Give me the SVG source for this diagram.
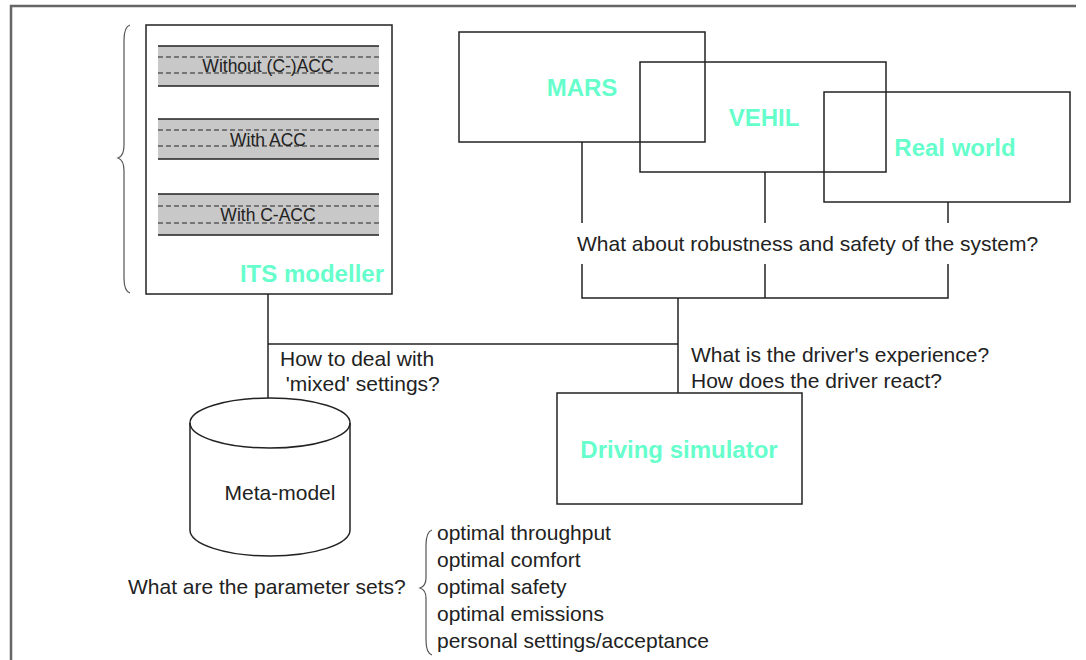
<svg xmlns="http://www.w3.org/2000/svg" width="1086" height="660" viewBox="0 0 1086 660">
<defs>
<style>
.frame{fill:none;stroke:#666;stroke-width:2.5}
.box{fill:none;stroke:#222;stroke-width:1.5}
.wire{fill:none;stroke:#222;stroke-width:1.5}
.brace{fill:none;stroke:#555;stroke-width:1.2}
.lane{fill:#c8c8c8;stroke:none}
.edge{stroke:#222;stroke-width:1.5}
.dash{stroke:#222;stroke-width:1;stroke-dasharray:5 3}
.t{font-family:"Liberation Sans",Arial,sans-serif;font-size:21px;fill:#222}
.lt{font-family:"Liberation Sans",Arial,sans-serif;font-size:17.5px;fill:#222;text-anchor:middle}
.lbl{font-family:"Liberation Sans",Arial,sans-serif;font-size:24px;font-weight:bold;fill:#66FFCC}
</style>
</defs>
<rect width="1086" height="660" fill="#fff"/>
<polyline class="frame" points="11,660 11,6 1076,6"/>

<g id="connectors">
<line class="wire" x1="268" y1="294" x2="268" y2="398"/>
<line class="wire" x1="268" y1="344" x2="678" y2="344"/>
<line class="wire" x1="678" y1="298" x2="678" y2="393"/>
<line class="wire" x1="582" y1="142" x2="582" y2="223"/>
<line class="wire" x1="765" y1="172" x2="765" y2="223"/>
<line class="wire" x1="948" y1="202" x2="948" y2="223"/>
<polyline class="wire" points="582,264 582,298 948,298 948,264"/>
<line class="wire" x1="765" y1="264" x2="765" y2="298"/>
<text class="t" x="577" y="251">What about robustness and safety of the system?</text>
<text class="t" x="280" y="366">How to deal with</text>
<text class="t" x="280" y="391" xml:space="preserve"> 'mixed' settings?</text>
<text class="t" x="691" y="362">What is the driver's experience?</text>
<text class="t" x="691" y="388">How does the driver react?</text>
</g>

<g id="its-modeller">
<path class="brace" d="M130,25 Q124,27 124,40 L124,145 Q124,156 118,158 Q124,160 124,171 L124,278 Q124,291 130,293"/>
<rect class="box" x="146" y="25" width="246" height="269"/>
<g id="lane1">
<rect class="lane" x="158" y="46" width="221" height="40"/>
<line class="edge" x1="158" y1="46" x2="379" y2="46"/>
<line class="edge" x1="158" y1="86" x2="379" y2="86"/>
<line class="dash" x1="158" y1="57" x2="379" y2="57"/>
<line class="dash" x1="158" y1="73" x2="379" y2="73"/>
<text class="lt" x="268" y="72">Without (C-)ACC</text>
</g>
<g id="lane2">
<rect class="lane" x="158" y="119" width="221" height="40"/>
<line class="edge" x1="158" y1="119" x2="379" y2="119"/>
<line class="edge" x1="158" y1="159" x2="379" y2="159"/>
<line class="dash" x1="158" y1="130" x2="379" y2="130"/>
<line class="dash" x1="158" y1="146" x2="379" y2="146"/>
<text class="lt" x="268" y="146">With ACC</text>
</g>
<g id="lane3">
<rect class="lane" x="158" y="194" width="221" height="41"/>
<line class="edge" x1="158" y1="194" x2="379" y2="194"/>
<line class="edge" x1="158" y1="235" x2="379" y2="235"/>
<line class="dash" x1="158" y1="206" x2="379" y2="206"/>
<line class="dash" x1="158" y1="223" x2="379" y2="223"/>
<text class="lt" x="268" y="221">With C-ACC</text>
</g>
<text class="lbl" x="384" y="282" text-anchor="end">ITS modeller</text>
</g>

<g id="mars">
<rect class="box" x="459" y="32" width="246" height="110"/>
<text class="lbl" x="582" y="96" text-anchor="middle">MARS</text>
</g>
<g id="vehil">
<rect class="box" x="640" y="62" width="246" height="110"/>
<text class="lbl" x="764" y="126" text-anchor="middle">VEHIL</text>
</g>
<g id="real-world">
<rect class="box" x="824" y="92" width="246" height="110"/>
<text class="lbl" x="955" y="156" text-anchor="middle">Real world</text>
</g>

<g id="driving-simulator">
<rect class="box" x="557" y="393" width="245" height="111"/>
<text class="lbl" x="679" y="458" text-anchor="middle">Driving simulator</text>
</g>

<g id="meta-model">
<path class="box" d="M190,423 L190,530 A80,26 0 0 0 350,530 L350,423"/>
<ellipse class="box" cx="270" cy="423" rx="80" ry="25"/>
<text class="t" x="280" y="500" text-anchor="middle">Meta-model</text>
</g>

<g id="parameter-sets">
<text class="t" x="128" y="594">What are the parameter sets?</text>
<path class="brace" d="M432,530 Q426,532 426,545 L426,578 Q426,586 420,588 Q426,590 426,598 L426,640 Q426,653 432,655"/>
<text class="t" x="437" y="540">optimal throughput</text>
<text class="t" x="437" y="567">optimal comfort</text>
<text class="t" x="437" y="594">optimal safety</text>
<text class="t" x="437" y="621">optimal emissions</text>
<text class="t" x="437" y="648">personal settings/acceptance</text>
</g>
</svg>
